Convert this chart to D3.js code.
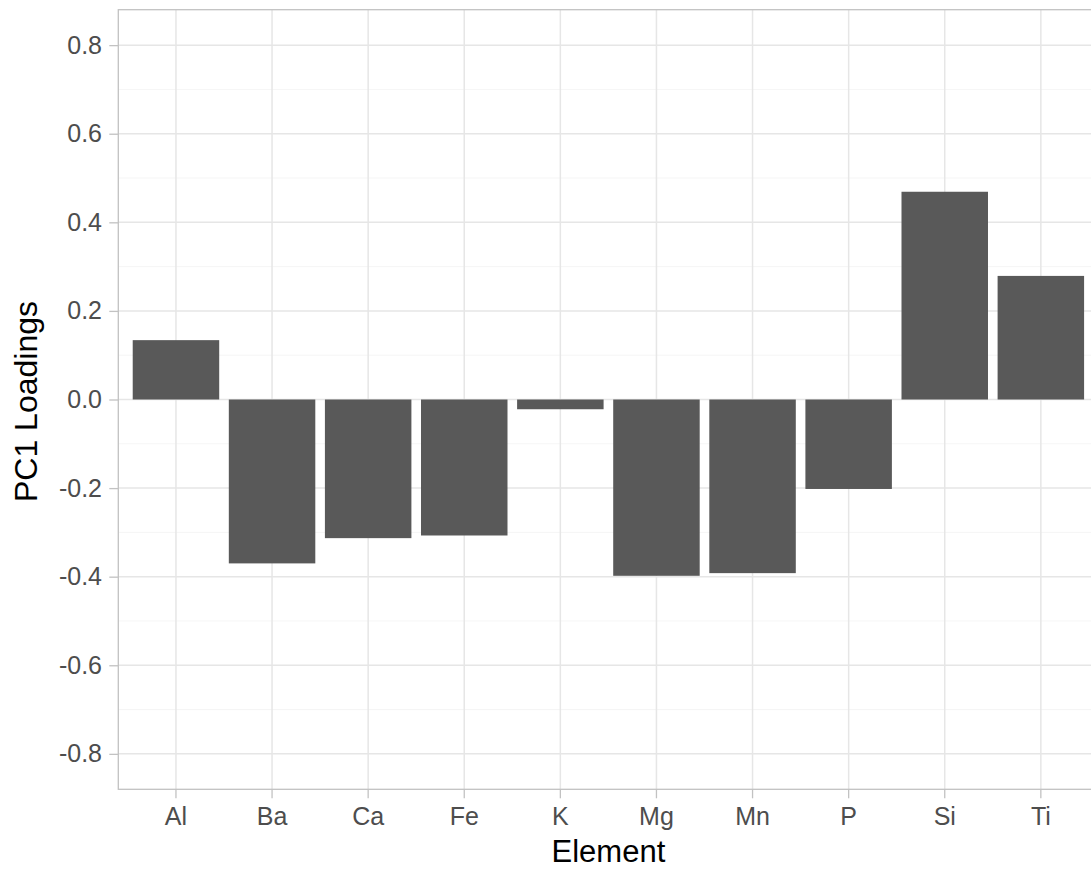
<!DOCTYPE html>
<html>
<head>
<meta charset="utf-8">
<script src="https://cdn.jsdelivr.net/npm/d3@7"></script>
<style>
  html, body { margin: 0; padding: 0; background: #ffffff; }
  svg { display: block; }
</style>
</head>
<body>
<script>
// ---- data ----
const elements = ["Al", "Ba", "Ca", "Fe", "K", "Mg", "Mn", "P", "Si", "Ti"];
const loadings = [0.134, -0.370, -0.313, -0.307, -0.022, -0.398, -0.392, -0.202, 0.469, 0.279];
const yTicks = [-0.8, -0.6, -0.4, -0.2, 0.0, 0.2, 0.4, 0.6, 0.8];
const yMinor = [-0.7, -0.5, -0.3, -0.1, 0.1, 0.3, 0.5, 0.7];
const xTitle = "Element";
const yTitle = "PC1 Loadings";

const W = 1091, H = 869;
const panel = { left: 118.3, right: 1098.5, top: 9.7, bottom: 789.3 };

const svg = d3.select("body").append("svg")
  .attr("width", W).attr("height", H)
  .style("font-family", "'Liberation Sans', Arial, sans-serif");

const x = d3.scaleBand()
  .domain(elements)
  .range([panel.left, panel.right])
  .paddingInner(0.1)
  .paddingOuter(0.15);

const y = d3.scaleLinear()
  .domain([-0.88, 0.88])
  .range([panel.bottom, panel.top]);

// minor grid
svg.append("g").selectAll("line").data(yMinor).join("line")
  .attr("x1", panel.left).attr("x2", panel.right)
  .attr("y1", d => y(d)).attr("y2", d => y(d))
  .attr("stroke", "#F2F2F2").attr("stroke-width", 0.8);

// major grid
svg.append("g").selectAll("line").data(yTicks).join("line")
  .attr("x1", panel.left).attr("x2", panel.right)
  .attr("y1", d => y(d)).attr("y2", d => y(d))
  .attr("stroke", "#E6E6E6").attr("stroke-width", 1.5);
svg.append("g").selectAll("line").data(elements).join("line")
  .attr("y1", panel.top).attr("y2", panel.bottom)
  .attr("x1", d => x(d) + x.bandwidth() / 2).attr("x2", d => x(d) + x.bandwidth() / 2)
  .attr("stroke", "#E6E6E6").attr("stroke-width", 1.5);

// bars
svg.append("g").selectAll("rect").data(elements).join("rect")
  .attr("x", d => x(d))
  .attr("width", x.bandwidth())
  .attr("y", (d, i) => y(Math.max(0, loadings[i])))
  .attr("height", (d, i) => Math.abs(y(loadings[i]) - y(0)))
  .attr("fill", "#595959");

// panel border
svg.append("rect")
  .attr("x", panel.left).attr("y", panel.top)
  .attr("width", panel.right - panel.left).attr("height", panel.bottom - panel.top)
  .attr("fill", "none").attr("stroke", "#C2C2C2").attr("stroke-width", 1.3);

// axes
const xAxis = svg.append("g")
  .attr("transform", `translate(0,${panel.bottom})`)
  .call(d3.axisBottom(x).tickSize(9).tickPadding(8.5).tickSizeOuter(0));
const yAxis = svg.append("g")
  .attr("transform", `translate(${panel.left},0)`)
  .call(d3.axisLeft(y).tickValues(yTicks).tickFormat(d3.format(".1f")).tickSize(9).tickPadding(7.3).tickSizeOuter(0));

[xAxis, yAxis].forEach(g => {
  g.select(".domain").remove();
  g.selectAll(".tick line").attr("stroke", "#C2C2C2").attr("stroke-width", 1.3);
  g.selectAll(".tick text")
    .attr("fill", "#4D4D4D")
    .style("font-size", "25px")
    .style("font-family", "'Liberation Sans', Arial, sans-serif");
});
yAxis.selectAll(".tick text").text(d => d3.format(".1f")(d).replace("−", "-"));

// titles
svg.append("text")
  .attr("x", (panel.left + panel.right) / 2)
  .attr("y", 862)
  .attr("text-anchor", "middle")
  .attr("fill", "#000000")
  .style("font-size", "31px")
  .text(xTitle);

svg.append("text")
  .attr("transform", `translate(37,${(panel.top + panel.bottom) / 2 + 2}) rotate(-90)`)
  .attr("text-anchor", "middle")
  .attr("fill", "#000000")
  .style("font-size", "32px")
  .text(yTitle);
</script>
</body>
</html>
